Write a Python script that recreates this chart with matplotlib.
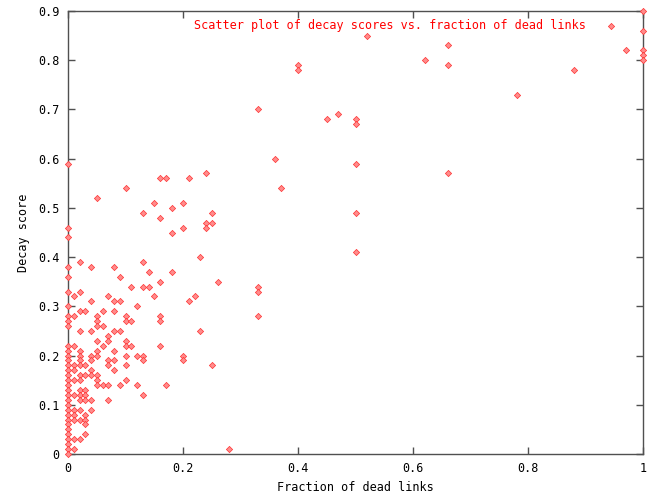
import matplotlib
matplotlib.use('Agg')
import matplotlib.pyplot as plt

# --- data: fraction of dead links (x) and decay scores at each x ---
link_frac = [0.00, 0.01, 0.02, 0.03, 0.04, 0.05, 0.06, 0.07, 0.08, 0.09,
             0.10, 0.11, 0.12, 0.13, 0.14, 0.15, 0.16, 0.17, 0.18, 0.20,
             0.21, 0.22, 0.23, 0.24, 0.25, 0.26, 0.28, 0.33, 0.36, 0.37,
             0.40, 0.45, 0.47, 0.50, 0.52, 0.62, 0.66, 0.78, 0.88, 0.97, 1.00]
decay_scores = [
    [0.59, 0.46, 0.44, 0.38, 0.36, 0.33, 0.30, 0.28, 0.27, 0.26, 0.22, 0.21,
     0.20, 0.19, 0.18, 0.17, 0.16, 0.15, 0.14, 0.13, 0.12, 0.11, 0.10, 0.09,
     0.08, 0.07, 0.06, 0.05, 0.04, 0.03, 0.02, 0.01, 0.00],
    [0.32, 0.28, 0.22, 0.18, 0.17, 0.15, 0.12, 0.09, 0.08, 0.07, 0.03, 0.01],
    [0.39, 0.33, 0.29, 0.25, 0.21, 0.20, 0.19, 0.18, 0.16, 0.15, 0.13, 0.12,
     0.11, 0.09, 0.07, 0.03],
    [0.29, 0.18, 0.16, 0.13, 0.12, 0.11, 0.08, 0.07, 0.06, 0.04],
    [0.38, 0.31, 0.25, 0.20, 0.19, 0.17, 0.16, 0.11, 0.09],
    [0.52, 0.28, 0.27, 0.26, 0.23, 0.21, 0.20, 0.16, 0.15, 0.14],
    [0.29, 0.26, 0.22, 0.14],
    [0.32, 0.24, 0.23, 0.19, 0.18, 0.14, 0.11],
    [0.38, 0.31, 0.29, 0.25, 0.21, 0.19, 0.17],
    [0.36, 0.31, 0.25, 0.14],
    [0.54, 0.28, 0.27, 0.23, 0.22, 0.20, 0.18, 0.15],
    [0.34, 0.27, 0.22],
    [0.30, 0.20, 0.14],
    [0.49, 0.39, 0.34, 0.20, 0.19, 0.12],
    [0.37, 0.34],
    [0.51, 0.32],
    [0.56, 0.48, 0.35, 0.28, 0.27, 0.22],
    [0.56, 0.14],
    [0.50, 0.45, 0.37],
    [0.51, 0.46, 0.20, 0.19],
    [0.56, 0.31],
    [0.32],
    [0.40, 0.25],
    [0.57, 0.47, 0.46],
    [0.49, 0.47, 0.18],
    [0.35],
    [0.01],
    [0.70, 0.34, 0.33, 0.28],
    [0.60],
    [0.54],
    [0.79, 0.78],
    [0.68],
    [0.69],
    [0.68, 0.67, 0.59, 0.49, 0.41],
    [0.85],
    [0.80],
    [0.83, 0.79, 0.57],
    [0.73],
    [0.78],
    [0.82],
    [0.90, 0.86, 0.82, 0.81, 0.80],
]

xs = []
ys = []
for f, scores in zip(link_frac, decay_scores):
    for s in scores:
        xs.append(f)
        ys.append(s)

FS = 8.5
plt.rcParams['font.family'] = 'DejaVu Sans Mono'
plt.rcParams['font.size'] = FS

fig = plt.figure(figsize=(6.59, 4.93), dpi=100)
ax = fig.add_axes([68 / 659, 39 / 493, 575 / 659, 443 / 493])

ax.scatter(xs, ys, marker='D', s=10, facecolor='#ff8c8c', edgecolor='#ff3030',
           linewidth=0.5, clip_on=False, zorder=3,
           label='Scatter plot of decay scores vs. fraction of dead links')

ax.set_xlim(0, 1)
ax.set_ylim(0, 0.9)
ax.set_xticks([0, 0.2, 0.4, 0.6, 0.8, 1.0])
ax.set_xticklabels(['0', '0.2', '0.4', '0.6', '0.8', '1'])
ax.set_yticks([i / 10 for i in range(10)])
ax.set_yticklabels(['0'] + [f'0.{i}' for i in range(1, 10)])

ax.tick_params(direction='in', length=5, width=1, color='#505050',
               top=True, right=True, pad=6, labelsize=FS)
for sp in ax.spines.values():
    sp.set_color('#505050')
    sp.set_linewidth(1)

ax.set_xlabel('Fraction of dead links', fontsize=FS, labelpad=4)
ax.set_ylabel('Decay score', fontsize=FS, labelpad=6)

leg = ax.legend(loc='upper right', bbox_to_anchor=(0.979, 1.0), frameon=False,
                markerfirst=False, labelcolor='red', fontsize=FS,
                handletextpad=1.1, borderaxespad=0.3)

fig.savefig('out.png', dpi=100)
